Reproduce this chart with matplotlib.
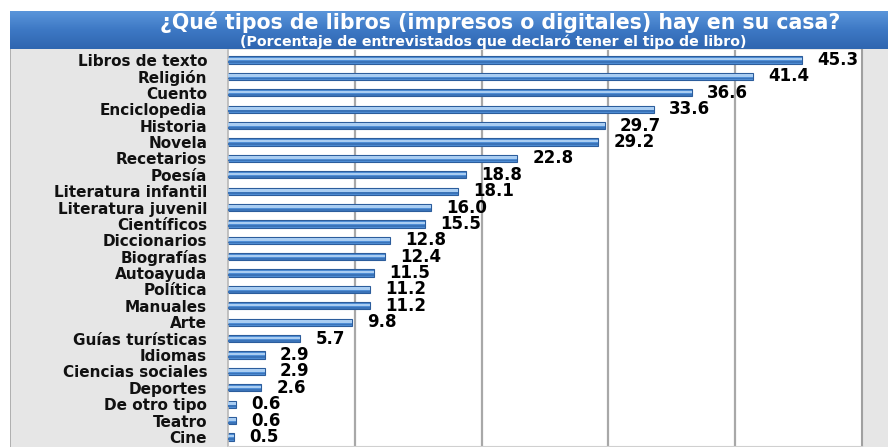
import matplotlib
matplotlib.use("Agg")
import matplotlib.pyplot as plt
import numpy as np
from matplotlib.patches import Rectangle
from matplotlib.colors import LinearSegmentedColormap

categories = ["Libros de texto", "Religión", "Cuento", "Enciclopedia", "Historia",
              "Novela", "Recetarios", "Poesía", "Literatura infantil",
              "Literatura juvenil", "Científicos", "Diccionarios", "Biografías",
              "Autoayuda", "Política", "Manuales", "Arte", "Guías turísticas",
              "Idiomas", "Ciencias sociales", "Deportes", "De otro tipo", "Teatro", "Cine"]
values = [45.3, 41.4, 36.6, 33.6, 29.7, 29.2, 22.8, 18.8, 18.1, 16.0, 15.5, 12.8,
          12.4, 11.5, 11.2, 11.2, 9.8, 5.7, 2.9, 2.9, 2.6, 0.6, 0.6, 0.5]
value_labels = [f"{v:.1f}" for v in values]

title = "¿Qué tipos de libros (impresos o digitales) hay en su casa?"
subtitle = "(Porcentaje de entrevistados que declaró tener el tipo de libro)"

W, H = 888, 447
fig = plt.figure(figsize=(W / 100, H / 100), dpi=100)
fig.patch.set_facecolor("white")

# background panel (gray) and title band
bg = fig.add_axes([0, 0, 1, 1])
bg.axis("off")
bg.add_patch(Rectangle((10, 49), W - 10, H - 49, facecolor="#e6e6e6", edgecolor="none"))
bg.add_patch(Rectangle((10, 49), 1.2, H - 49, facecolor="#b0b0b0", edgecolor="none"))
grad = np.linspace(0, 1, 50).reshape(-1, 1)
cmap_band = LinearSegmentedColormap.from_list("band", ["#5a95da", "#3d78c4", "#2f66b0"])
bg.imshow(grad, extent=(10, W, 49, 11), aspect="auto", cmap=cmap_band, zorder=1)
bg.set_xlim(0, W)
bg.set_ylim(H, 0)
bg.text(500, 22, title, color="white", fontsize=14.8, fontweight="bold",
        family="DejaVu Sans", ha="center", va="center", zorder=3)
bg.text(493, 42, subtitle, color="white", fontsize=10.2, fontweight="bold",
        family="DejaVu Sans", ha="center", va="center", zorder=3)

# plot area
x0, x1 = 228, 862
y_top, y_bot = 50, 446
ax = fig.add_axes([x0 / W, 1 - y_bot / H, (x1 - x0) / W, (y_bot - y_top) / H])
ax.set_facecolor("white")
y = np.arange(len(categories))
ax.set_xlim(0, 50)
ax.set_ylim(23.55, -0.61)
for gx in [10, 20, 30, 40]:
    ax.axvline(gx, color="#a8a8a8", lw=1.6, zorder=0)

h = 0.44
ax.barh(y, values, height=h, color="#4f8ed6", edgecolor="#2c5d9c", linewidth=0.8, zorder=2)
ax.barh(y - h * 0.12, values, height=h * 0.35, color="#a9cdf2", edgecolor="none", zorder=3)
ax.barh(y + h * 0.3, values, height=h * 0.25, color="#3a73b8", edgecolor="none", zorder=3)

for yi, v, lab in zip(y, values, value_labels):
    ax.text(v + 1.2, yi, lab, fontsize=12, fontweight="heavy", family="DejaVu Sans",
            ha="left", va="center", color="black", zorder=4)

ax.set_yticks(y)
ax.set_yticklabels(categories, fontsize=11, fontweight="bold", family="DejaVu Sans",
                   color="#111111")
ax.tick_params(axis="y", length=0, pad=15)
ax.tick_params(axis="x", length=0, labelbottom=False)
ax.spines["top"].set_visible(False)
ax.spines["left"].set_color("#b8b8b8")
ax.spines["left"].set_linewidth(1.2)
ax.spines["bottom"].set_color("#d0d0d0")
ax.spines["right"].set_color("#a0a0a0")
ax.spines["right"].set_linewidth(1.5)

fig.savefig("out.png", dpi=100)
